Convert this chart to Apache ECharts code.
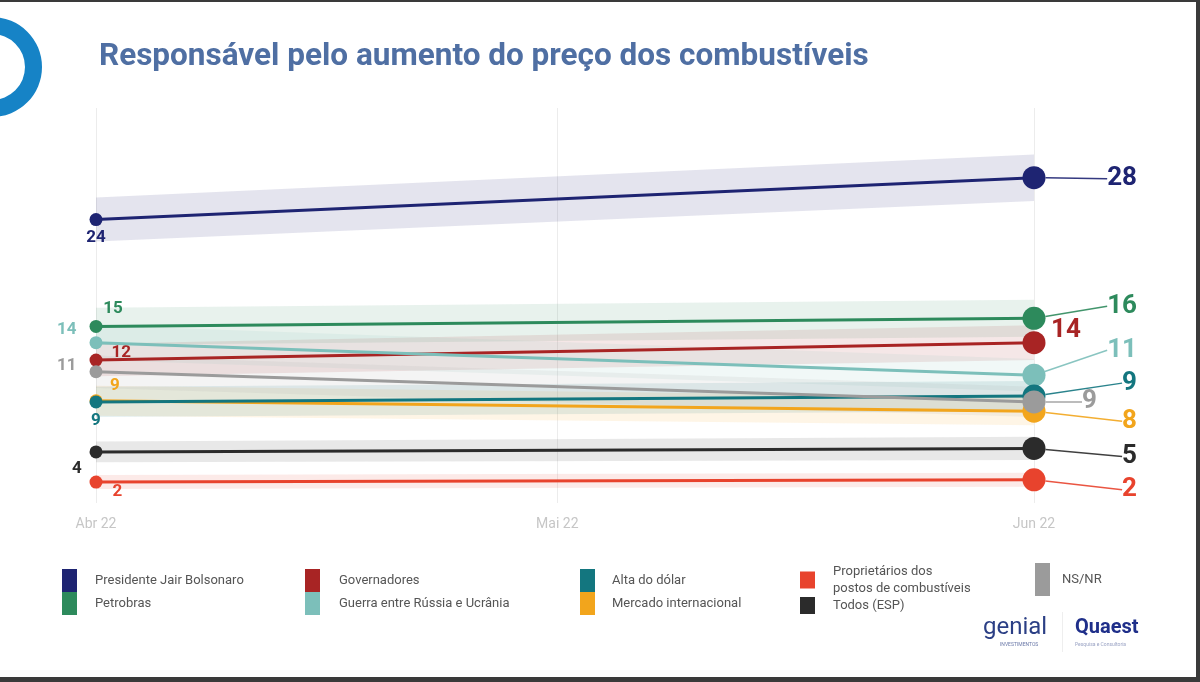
<!DOCTYPE html>
<html><head><meta charset="utf-8">
<script src="https://cdn.jsdelivr.net/npm/echarts@6/dist/echarts.min.js"></script>
<style>html,body{margin:0;padding:0;background:#fff}#c{width:1200px;height:682px}</style>
</head><body><div id="c"></div>
<script>
// ---- data ----
const surveyDates = ['2022-04-01', '2022-06-01'];
const monthNames = ['Jan','Fev','Mar','Abr','Mai','Jun','Jul','Ago','Set','Out','Nov','Dez'];
const titleText = 'Responsável pelo aumento do preço dos combustíveis';
const seriesNames = [
  'Presidente Jair Bolsonaro', 'Petrobras', 'Governadores', 'Guerra entre Rússia e Ucrânia',
  'Mercado internacional', 'Alta do dólar', 'Proprietários dos postos de combustíveis',
  'Todos (ESP)', 'NS/NR'
];
const bolsonaro     = [24.4, 28.0];
const petrobras     = [15.2, 15.9];
const governadores  = [12.3, 13.8];
const guerra        = [13.8, 11.0];
const mercado       = [8.8, 7.9];
const altaDolar     = [8.7, 9.2];
const proprietarios = [1.8, 2.0];
const todos         = [4.4, 4.7];
const nsnr          = [11.3, 8.7];
// half-width of the shaded margin band (points)
const bolsonaroMargin     = [1.9, 2.0];
const petrobrasMargin     = [1.6, 1.6];
const governadoresMargin  = [1.4, 1.5];
const guerraMargin        = [1.5, 1.4];
const mercadoMargin       = [1.3, 1.2];
const altaDolarMargin     = [1.3, 1.3];
const proprietariosMargin = [0.6, 0.6];
const todosMargin         = [0.9, 1.0];
const nsnrMargin          = [1.4, 1.3];

const values  = [bolsonaro, petrobras, governadores, guerra, mercado, altaDolar, proprietarios, todos, nsnr];
const margins = [bolsonaroMargin, petrobrasMargin, governadoresMargin, guerraMargin, mercadoMargin, altaDolarMargin, proprietariosMargin, todosMargin, nsnrMargin];

// ---- styles ----
const colors = ['#1e2472', '#2d8a5c', '#a82424', '#7cbfba', '#f2a51c', '#13767f', '#e8432d', '#2b2b2b', '#9b9b9b'];
const FONT = 'Roboto';
// first-point label placement (same order as values)
const startLabels = [
  {position: 'bottom', distance: 3, dx: 0, dy: 0},       // Bolsonaro
  {position: 'top', distance: 5, dx: 17, dy: 2},         // Petrobras
  {position: 'right', distance: 9, dx: 0, dy: -7},       // Governadores
  {position: 'left', distance: 9, dx: -4, dy: -13},      // Guerra
  {position: 'top', distance: 5, dx: 19, dy: 5},         // Mercado
  {position: 'bottom', distance: 5, dx: 0, dy: -1},      // Alta do dólar
  {position: 'right', distance: 10, dx: 0, dy: 10},      // Proprietários
  {position: 'bottom', distance: 5, dx: -19, dy: -3},    // Todos
  {position: 'left', distance: 9, dx: -4, dy: -6}        // NS/NR
];
// last-point label placement (relative to point centre)
const endLabels = [
  {dx: 103, dy: 1, align: 'right', line: true},
  {dx: 103, dy: -12, align: 'right', line: true},
  {dx: 17, dy: -12, align: 'left', line: false},
  {dx: 103, dy: -25, align: 'right', line: true},
  {dx: 103, dy: 10, align: 'right', line: true},
  {dx: 103, dy: -13, align: 'right', line: true},
  {dx: 103, dy: 10, align: 'right', line: true},
  {dx: 103, dy: 8, align: 'right', line: true},
  {dx: 48, dy: 0, align: 'left', line: true}
];

const series = [];
// bands
values.forEach((v, i) => {
  const m = margins[i];
  series.push({
    type: 'line', name: 'band_low_' + i, stack: 'band' + i, silent: true, symbol: 'none', z: 1,
    lineStyle: {width: 0, opacity: 0},
    data: surveyDates.map((d, k) => [d, v[k] - m[k]])
  });
  series.push({
    type: 'line', name: 'band_high_' + i, stack: 'band' + i, silent: true, symbol: 'none', z: 1,
    lineStyle: {width: 0, opacity: 0},
    areaStyle: {color: colors[i], opacity: i === 0 ? 0.12 : 0.11},
    data: surveyDates.map((d, k) => [d, 2 * m[k]])
  });
});
// lines
values.forEach((v, i) => {
  const s = startLabels[i], e = endLabels[i];
  series.push({
    type: 'line', name: seriesNames[i], z: 3 + i,
    color: colors[i],
    lineStyle: {width: 3, color: colors[i]},
    symbol: 'circle',
    symbolSize: (val, p) => p.dataIndex === 0 ? 13 : 23,
    itemStyle: {color: colors[i]},
    label: {
      show: true, color: colors[i], fontFamily: FONT, fontWeight: 'bold',
      formatter: p => String(Math.round(p.value[1]))
    },
    labelLayout: p => {
      if (p.dataIndex !== 1) return {dx: s.dx, dy: s.dy};
      return {
        x: p.rect.x + p.rect.width / 2 + e.dx,
        y: p.rect.y + p.rect.height / 2 + e.dy,
        align: e.align, verticalAlign: 'middle'
      };
    },
    data: [
      {value: [surveyDates[0], v[0]], labelLine: {show: false},
       label: {position: s.position, distance: s.distance, fontSize: 17}},
      {value: [surveyDates[1], v[1]], labelLine: {show: e.line, lineStyle: {color: colors[i], width: 1.5, opacity: 0.9}},
       label: {position: 'right', fontSize: 26}}
    ]
  });
});

const legendBase = {
  orient: 'vertical', icon: 'rect', itemWidth: 15, itemHeight: 23, itemGap: 0, selectedMode: false, padding: 0,
  textStyle: {color: '#555', fontSize: 13, fontFamily: FONT, lineHeight: 17},
  formatter: n => n === seriesNames[6] ? 'Proprietários dos\npostos de combustíveis' : n
};
const legendCols = [[0, 1], [2, 3], [5, 4], [6, 7], [8]];
const legendLeft = [62, 305, 580, 800, 1035];
const legendPad = [13, 14, 12, 13, 7];
const legends = legendCols.map((col, c) => Object.assign({}, legendBase, {
  left: legendLeft[c], top: c === 3 ? 563 : (c === 4 ? 563 : 569),
  itemHeight: c === 3 ? 17 : (c === 4 ? 33 : 23),
  textStyle: Object.assign({}, legendBase.textStyle, {padding: [0, 0, 0, legendPad[c]]}),
  data: col.map(k => seriesNames[k])
}));

const chart = echarts.init(document.getElementById('c'));
chart.setOption({
  backgroundColor: '#fff',
  animation: false,
  title: {
    text: titleText, left: 94, top: 36,
    textStyle: {fontSize: 31.5, fontWeight: 'bold', color: '#4f6fa3', fontFamily: FONT}
  },
  legend: legends,
  grid: {left: 96, right: 166, top: 108, bottom: 179},
  xAxis: {
    type: 'time', min: surveyDates[0], max: surveyDates[1], splitNumber: 2,
    axisLine: {show: false}, axisTick: {show: false},
    splitLine: {show: true, lineStyle: {color: '#ececec', width: 1}},
    axisLabel: {
      color: '#c6c6c6', fontSize: 14, fontFamily: FONT, margin: 14,
      showMinLabel: true, showMaxLabel: true,
      formatter: val => { const d = new Date(val); return monthNames[d.getMonth()] + ' ' + String(d.getFullYear()).slice(2); }
    }
  },
  yAxis: {type: 'value', min: 0, max: 34, show: false, splitLine: {show: false}},
  series: series,
  graphic: [
    {type: 'ring', shape: {cx: -8, cy: 67, r: 50, r0: 33}, style: {fill: '#1683c6'}},
    {type: 'rect', shape: {x: 0, y: 0, width: 1200, height: 2}, style: {fill: '#3a3a3a'}},
    {type: 'rect', shape: {x: 1196, y: 0, width: 4, height: 682}, style: {fill: '#3a3a3a'}},
    {type: 'rect', shape: {x: 0, y: 677, width: 1200, height: 5}, style: {fill: '#3a3a3a'}},
    {type: 'text', left: 983, top: 616, style: {text: 'genial', fontSize: 24, fontFamily: FONT, fill: '#2b3f85', fontWeight: 'normal'}},
    {type: 'text', left: 1000, top: 642, style: {text: 'INVESTIMENTOS', fontSize: 5, fontFamily: FONT, fill: '#6a78a8'}},
    {type: 'rect', shape: {x: 1062, y: 612, width: 1, height: 40}, style: {fill: '#eeeeee'}},
    {type: 'text', left: 1075, top: 618, style: {text: 'Quaest', fontSize: 20, fontFamily: FONT, fill: '#1f2f8a', fontWeight: 'bold'}},
    {type: 'text', left: 1075, top: 642, style: {text: 'Pesquisa e Consultoria', fontSize: 5, fontFamily: FONT, fill: '#9aa3c4'}}
  ]
});
</script></body></html>
